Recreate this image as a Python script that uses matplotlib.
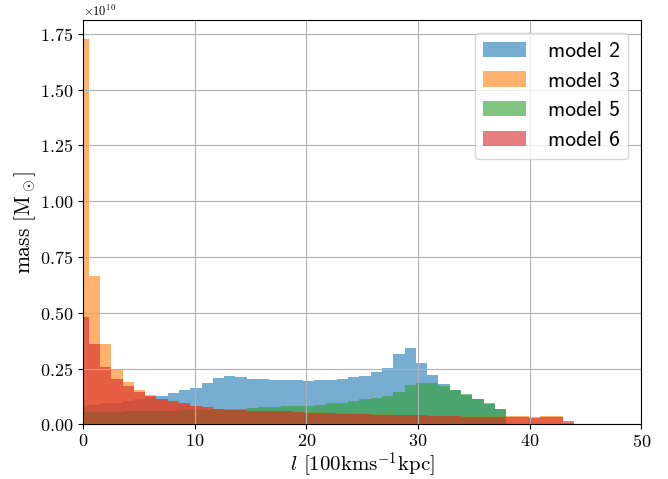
import numpy as np
import matplotlib
matplotlib.use("Agg")
import matplotlib.pyplot as plt

plt.rcParams['font.family'] = 'serif'
plt.rcParams['font.serif'] = ['cmr10']
plt.rcParams['mathtext.fontset'] = 'cm'
plt.rcParams['axes.formatter.use_mathtext'] = True
plt.rcParams['axes.unicode_minus'] = False

# bin edges of the l histogram (50 bins)
edges = np.linspace(-0.48, 50.02, 51)
centers = 0.5 * (edges[:-1] + edges[1:])

# mass per bin, units of 1e10 Msun
model2 = [0.089, 0.089, 0.095, 0.098, 0.107, 0.112, 0.122, 0.129, 0.140, 0.152,
          0.165, 0.184, 0.210, 0.219, 0.213, 0.205, 0.202, 0.198, 0.198, 0.198,
          0.195, 0.198, 0.201, 0.205, 0.211, 0.217, 0.234, 0.253, 0.317, 0.344,
          0.275, 0.222, 0.182, 0.152, 0.132, 0.113, 0.093, 0.069, 0, 0,
          0, 0, 0, 0, 0, 0, 0, 0, 0, 0]
model3 = [1.725, 0.664, 0.360, 0.249, 0.189, 0.153, 0.130, 0.112, 0.100, 0.092,
          0.082, 0.076, 0.070, 0.066, 0.064, 0.062, 0.061, 0.060, 0.058, 0.056,
          0.055, 0.054, 0.053, 0.052, 0.048, 0.047, 0.046, 0.045, 0.044, 0.044,
          0.042, 0.041, 0.041, 0.040, 0.040, 0.039, 0.039, 0.039, 0.039, 0.039,
          0.033, 0.037, 0.036, 0.008, 0, 0, 0, 0, 0, 0]
model5 = [0.054, 0.054, 0.054, 0.054, 0.058, 0.058, 0.058, 0.058, 0.062, 0.063,
          0.064, 0.066, 0.068, 0.071, 0.071, 0.073, 0.076, 0.077, 0.082, 0.083,
          0.083, 0.089, 0.094, 0.098, 0.104, 0.112, 0.120, 0.129, 0.147, 0.176,
          0.184, 0.184, 0.170, 0.155, 0.135, 0.116, 0.097, 0.071, 0, 0,
          0, 0, 0, 0, 0, 0, 0, 0, 0, 0]
model6 = [0.482, 0.359, 0.259, 0.204, 0.170, 0.144, 0.125, 0.113, 0.103, 0.094,
          0.083, 0.077, 0.071, 0.066, 0.063, 0.062, 0.060, 0.059, 0.058, 0.054,
          0.052, 0.050, 0.049, 0.048, 0.046, 0.045, 0.044, 0.043, 0.043, 0.042,
          0.040, 0.039, 0.039, 0.038, 0.034, 0.034, 0.033, 0.033, 0.033, 0.033,
          0.027, 0.031, 0.031, 0.013, 0, 0, 0, 0, 0, 0]

series = [("model 2", model2), ("model 3", model3),
          ("model 5", model5), ("model 6", model6)]

fig, ax = plt.subplots(figsize=(6.68, 4.79), dpi=100)
fig.subplots_adjust(left=0.124, right=0.96, bottom=0.114, top=0.958)

for name, vals in series:
    ax.hist(centers, bins=edges, weights=np.array(vals) * 1e10,
            alpha=0.6, label=name)

ax.set_xlim(0, 50)
ax.grid(True)
ax.tick_params(labelsize=13)
ax.tick_params(axis='x', pad=3)
ax.yaxis.get_offset_text().set_fontsize(9)
ax.set_xlabel(r"$l$ [100kms$^{-1}$kpc]", fontsize=15, labelpad=0)
ax.set_ylabel(r"mass [M$_\odot$]", fontsize=15.5, labelpad=1)
ax.legend(loc="upper right", prop={'family': 'cmss10', 'size': 15.5},
          handletextpad=1.0, labelspacing=0.5, borderaxespad=0.6)

fig.savefig("out.png")
